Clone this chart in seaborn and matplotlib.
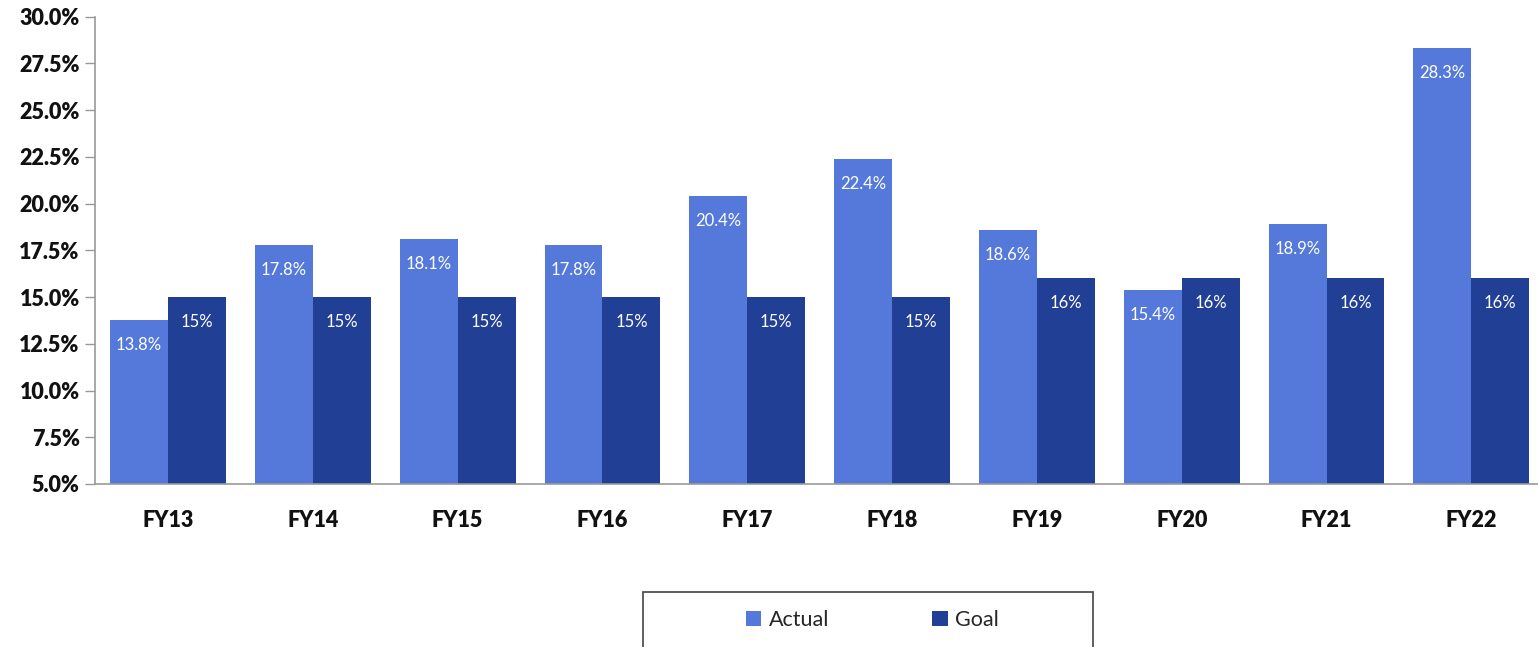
import matplotlib
matplotlib.use("Agg")
import matplotlib.pyplot as plt
from matplotlib.patches import Patch, Rectangle
import seaborn as sns
import pandas as pd

years = ["FY13", "FY14", "FY15", "FY16", "FY17", "FY18", "FY19", "FY20", "FY21", "FY22"]
actual = [13.8, 17.8, 18.1, 17.8, 20.4, 22.4, 18.6, 15.4, 18.9, 28.3]
goal = [15, 15, 15, 15, 15, 15, 16, 16, 16, 16]
series = ["Actual", "Goal"]
colors = ["#5479DB", "#223F96"]
yticks = [5.0, 7.5, 10.0, 12.5, 15.0, 17.5, 20.0, 22.5, 25.0, 27.5, 30.0]

df = pd.DataFrame({
    "year": years * 2,
    "value": actual + goal,
    "series": [series[0]] * len(years) + [series[1]] * len(years),
})

sns.set_theme(style="white")
plt.rcParams["font.family"] = ["Lato", "DejaVu Sans"]

W, H = 1538, 647
fig = plt.figure(figsize=(W / 100, H / 100), dpi=100)
ax = fig.add_axes([95 / W, 1 - 484 / H, 1 - 95 / W, (484 - 16.7) / H])

sns.barplot(data=df, x="year", y="value", hue="series", palette=colors,
            width=0.8, gap=0, saturation=1, ax=ax, legend=False,
            edgecolor="none", linewidth=0)

ax.set_ylim(5, 30)
ax.set_xlim(-0.504, 9.46)
ax.set_yticks(yticks)
ax.set_yticklabels([f"{t:.1f}%" for t in yticks], fontsize=15.5, fontweight="heavy", color="#111111")
ax.set_xticklabels(years, fontsize=15.5, fontweight="heavy", color="#111111")
ax.set_xlabel("")
ax.set_ylabel("")
ax.tick_params(axis="y", which="major", left=True, length=7, width=1, color="#999999", pad=4)
ax.tick_params(axis="x", bottom=False, pad=13)
for s in ["top", "right"]:
    ax.spines[s].set_visible(False)
for s in ["left", "bottom"]:
    ax.spines[s].set_color("#999999")
    ax.spines[s].set_linewidth(1.2)

# bar value labels
for i, cont in enumerate(ax.containers):
    vals = actual if i == 0 else goal
    labels = [f"{v:.1f}%" if i == 0 else f"{v:.0f}%" for v in vals]
    for bar, lab in zip(cont.patches, labels):
        x = bar.get_x() + bar.get_width() / 2
        y = bar.get_height()
        ax.annotate(lab, (x, y), xytext=(0, -18), textcoords="offset points",
                    ha="center", va="center", color="white", fontsize=12)

# legend
handles = [Patch(facecolor=c, edgecolor="none") for c in colors]
fig.legend(handles, series, loc="center", bbox_to_anchor=(0.5673, 1 - 620 / H),
           ncol=2, frameon=False, fontsize=15.5, handlelength=0.7, handleheight=0.7,
           handletextpad=0.35, columnspacing=4.8)
fig.patches.append(Rectangle((643 / W, -0.05), 450 / W, 0.05 + (647 - 592) / H,
                             transform=fig.transFigure, fill=False,
                             edgecolor="#444444", linewidth=1.2))

fig.savefig("out.png", dpi=100)
